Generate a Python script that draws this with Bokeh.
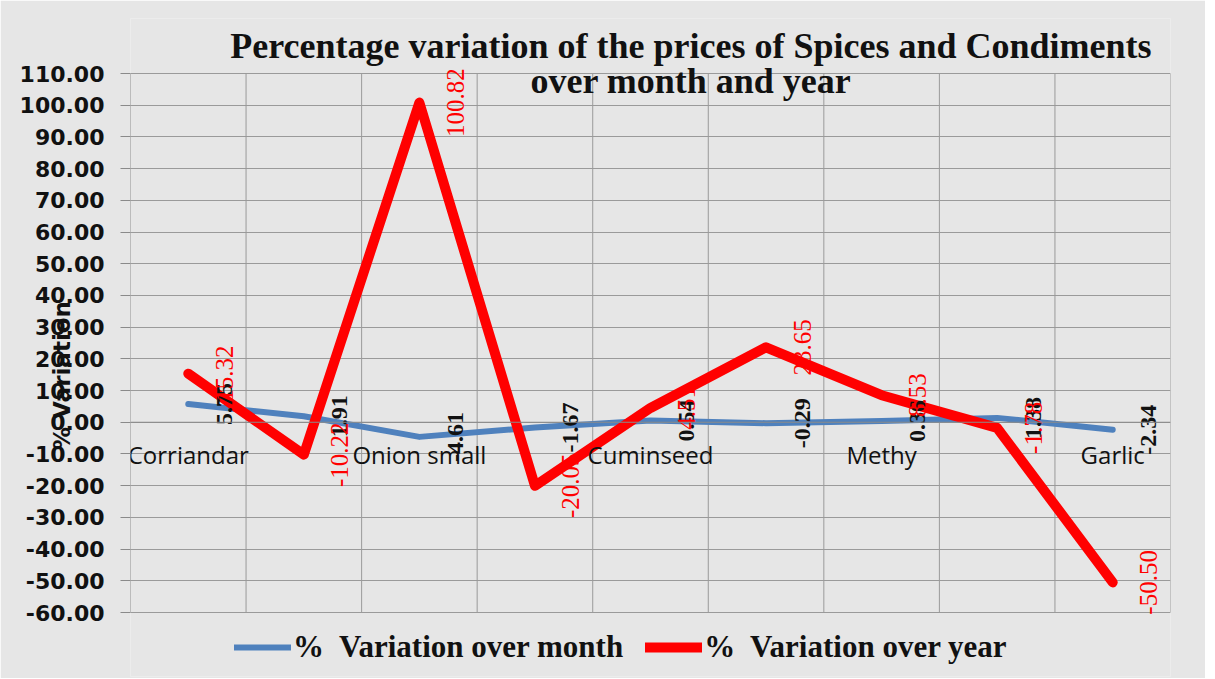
import math
from bokeh.plotting import figure
from bokeh.models import (ColumnDataSource, Range1d, FixedTicker, NumeralTickFormatter,
                          Legend, LegendItem, Label, Span)
from bokeh.core.properties import value
from bokeh.embed import file_html
from bokeh.resources import INLINE

# ---- data ----
categories = ["Corriandar", "", "Onion small", "", "Cuminseed", "", "Methy", "", "Garlic"]
month_var = [5.75, 1.91, -4.61, -1.67, 0.54, -0.29, 0.36, 1.38, -2.34]
year_var = [15.32, -10.22, 100.82, -20.05, 4.51, 23.65, 8.53, -1.78, -50.50]
y_ticks = list(range(-60, 111, 10))
title_lines = ["Percentage variation of the prices of Spices and Condiments", "over month and year"]
y_title = "% Variation"
series_names = ["%  Variation over month", "%  Variation over year"]

Y_MIN, Y_MAX = y_ticks[0], y_ticks[-1]
n = len(categories)
xs = list(range(n))
src = ColumnDataSource(dict(
    x=xs, cat=categories, m=month_var, y=year_var,
    m_lbl=[f"{v:.2f}" for v in month_var],
    y_lbl=[f"{v:.2f}" for v in year_var],
    zero=[0] * n,
))

# frame spans the whole chart area; the value scale keeps 170 units over 539 px
PX = 539 / (Y_MAX - Y_MIN)
y_top = Y_MAX + 55 / PX
y_bot = Y_MIN - 64 / PX

p = figure(frame_width=1040, frame_height=658, output_backend="svg", toolbar_location=None,
           x_range=Range1d(-0.5, n - 0.5), y_range=Range1d(y_bot, y_top),
           min_border_left=130, min_border_top=18, min_border_right=35, min_border_bottom=2)

p.background_fill_color = "#e6e6e6"
p.border_fill_color = "#e6e6e6"
p.outline_line_color = None

# grids
p.ygrid.ticker = FixedTicker(ticks=y_ticks)
p.ygrid.grid_line_color = "#9a9a9a"
p.ygrid.grid_line_width = 1
p.xgrid.visible = False
bounds = [i + 0.5 for i in range(n)]
p.segment(x0=bounds, x1=bounds, y0=[Y_MIN] * n, y1=[Y_MAX] * n,
          line_color="#9a9a9a", line_width=1)
p.segment(x0=[-0.5], x1=[-0.5], y0=[Y_MIN], y1=[Y_MAX], line_color="#8a8a8a", line_width=1)

# axes
p.xaxis.visible = False
ya = p.yaxis[0]
ya.ticker = FixedTicker(ticks=y_ticks)
ya.formatter = NumeralTickFormatter(format="0.00")
ya.major_label_text_font = "DejaVu Sans"
ya.major_label_text_font_style = "bold"
ya.major_label_text_font_size = "22px"
ya.major_label_text_color = "#111111"
ya.major_tick_out = 10
ya.major_tick_in = 0
ya.minor_tick_line_color = None
ya.major_tick_line_color = "#8a8a8a"
ya.axis_line_color = None
ya.major_label_standoff = 16
ya.axis_label = y_title + "\u00a0" * 7
ya.axis_label_text_font = "DejaVu Sans"
ya.axis_label_text_font_style = "bold"
ya.axis_label_text_font_size = "23px"
ya.axis_label_text_color = "#111111"
ya.axis_label_standoff = -58

p.add_layout(Span(location=0, dimension="width", line_color="#8a8a8a", line_width=1))

# lines
r_m = p.line("x", "m", source=src, line_color="#4f81bd", line_width=6,
             line_join="round", line_cap="round")
r_y = p.line("x", "y", source=src, line_color="#ff0000", line_width=10,
             line_join="round", line_cap="round")

# category labels
p.text("x", "zero", text="cat", source=src, text_font=value("Open Sans"),
       text_font_size="24px", text_color="#111111", text_align="center",
       text_baseline="middle", y_offset=32)

# data labels
p.text("x", "m", text="m_lbl", source=src, angle=math.pi / 2, x_offset=36,
       text_font=value("Liberation Serif"), text_font_style="bold",
       text_font_size="24px", text_color="#111111", text_align="center",
       text_baseline="middle")
p.text("x", "y", text="y_lbl", source=src, angle=math.pi / 2, x_offset=36,
       text_font=value("Liberation Serif"),
       text_font_size="25px", text_color="#ff0000", text_align="center",
       text_baseline="middle")

# title
title_y = [Y_MAX + 28 / PX, Y_MAX - 7 / PX]
for t, ty in zip(title_lines, title_y):
    p.add_layout(Label(x=4.35, y=ty, text=t, text_font="Liberation Serif",
                       text_font_style="bold", text_font_size="36px", text_color="#111111",
                       text_align="center", text_baseline="middle"))

legend = Legend(items=[LegendItem(label=series_names[0], renderers=[r_m]),
                       LegendItem(label=series_names[1], renderers=[r_y])],
                orientation="horizontal", location=(104, 11),
                background_fill_alpha=0, border_line_color=None,
                label_text_font="Liberation Serif", label_text_font_style="bold",
                label_text_font_size="31px", label_text_color="#111111",
                glyph_width=57, label_standoff=2, spacing=22, padding=4, margin=0)
p.add_layout(legend)

open("out.html", "w").write(file_html(p, INLINE))
